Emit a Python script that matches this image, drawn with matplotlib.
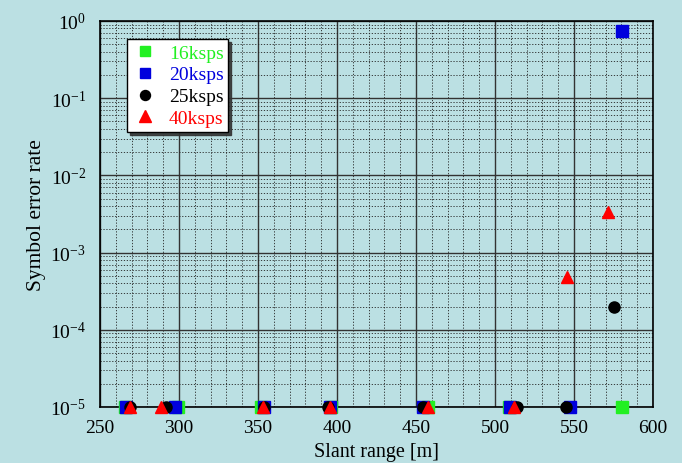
import matplotlib.pyplot as plt
from matplotlib.ticker import LogLocator, MultipleLocator

plt.rcParams['font.family'] = 'Liberation Serif'
plt.rcParams['mathtext.fontset'] = 'custom'
plt.rcParams['mathtext.rm'] = 'Liberation Serif'
plt.rcParams['mathtext.default'] = 'regular'

# datos (1e-5 = sin errores)
x_16 = [265.8, 299.5, 352.2, 396.0, 457.6, 509.0, 580.6]
y_16 = [1e-5, 1e-5, 1e-5, 1e-5, 1e-5, 1e-5, 1e-5]

x_20 = [266.5, 297.3, 354.1, 395.5, 454.3, 509.5, 547.2, 580.4]
y_20 = [1e-5, 1e-5, 1e-5, 1e-5, 1e-5, 1e-5, 1e-5, 0.75]

x_25 = [268.8, 291.8, 353.5, 394.5, 454.2, 514.0, 544.7, 575.5]
y_25 = [1e-5, 1e-5, 1e-5, 1e-5, 1e-5, 1e-5, 1e-5, 2.0e-4]

x_40 = [269.0, 288.8, 353.3, 395.6, 457.3, 511.8, 545.4, 571.7]
y_40 = [1e-5, 1e-5, 1e-5, 1e-5, 1e-5, 1e-5, 4.9e-4, 3.4e-3]

fondo = '#bbe0e3'
verde = '#22f022'
azul = '#0000dd'
rojo = '#ff0000'

fig = plt.figure(figsize=(6.82, 4.64), dpi=100, facecolor=fondo)
ax = fig.add_axes([0.1466, 0.1207, 0.8109, 0.8319], facecolor=fondo)

ax.plot(x_16, y_16, 's', color=verde, markersize=8, clip_on=False, label='16ksps', zorder=3)
ax.plot(x_20, y_20, 's', color=azul, markersize=8, clip_on=False, label='20ksps', zorder=3)
ax.plot(x_25, y_25, 'o', color='black', markersize=8, clip_on=False, label='25ksps', zorder=3)
ax.plot(x_40, y_40, '^', color=rojo, markersize=9, clip_on=False, label='40ksps', zorder=3)

ax.set_yscale('log')
ax.set_xlim(250, 600)
ax.set_ylim(1e-5, 1)
ax.xaxis.set_major_locator(MultipleLocator(50))
ax.xaxis.set_minor_locator(MultipleLocator(10))
ax.yaxis.set_major_locator(LogLocator(base=10, numticks=10))
ax.yaxis.set_minor_locator(LogLocator(base=10, subs=range(2, 10), numticks=10))

ax.grid(True, which='major', color='#333333', linestyle='-', linewidth=1.0)
ax.grid(True, which='minor', color='#222222', linestyle=(0, (1.5, 2)), linewidth=0.6)
ax.set_axisbelow(True)
ax.tick_params(which='both', length=0, labelsize=14)
ax.tick_params(axis='x', pad=9)
ax.tick_params(axis='y', pad=10)
for s in ax.spines.values():
    s.set_linewidth(1.2)

ax.set_xlabel('Slant range [m]', fontsize=14.5, labelpad=4)
ax.set_ylabel('Symbol error rate', fontsize=15.5, labelpad=3)

leg = ax.legend(loc='upper left', bbox_to_anchor=(0.049, 0.953), borderaxespad=0,
                fontsize=14, frameon=True, fancybox=False, edgecolor='black',
                facecolor='white', framealpha=1, shadow={'color': '#333333', 'alpha': 0.9},
                handlelength=1.3, handletextpad=0.6, borderpad=0.25, labelspacing=0.22,
                markerscale=0.9)
leg.get_frame().set_linewidth(1.0)
for t, c in zip(leg.get_texts(), [verde, azul, 'black', rojo]):
    t.set_color(c)

fig.savefig('out.png', dpi=100, facecolor=fondo)
